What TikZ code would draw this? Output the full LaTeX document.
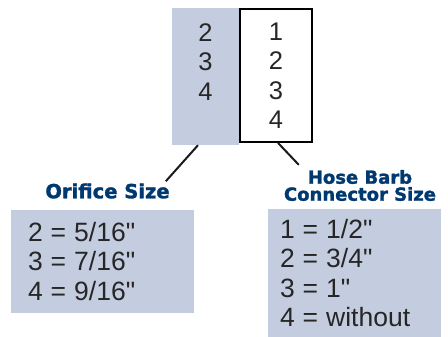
\documentclass[tikz,border=0pt]{standalone}
\usepackage{fontspec}
\newfontfamily\keyfont{Liberation Sans}
\newfontfamily\headfont{DejaVu Sans Bold}[FakeBold=1.5]
\usetikzlibrary{positioning,calc}
\definecolor{panelblue}{RGB}{196,205,224}
\definecolor{titleblue}{RGB}{0,57,112}
\newcommand\keyface{\keyfont\fontsize{25.5}{29.5}\selectfont}
\newcommand\widespace{\fontsize{26.5}{29.5}\selectfont\spaceskip=8pt plus 1pt\relax}

\begin{document}
\begin{tikzpicture}[x=1pt, y=-1pt,
    code/.style={minimum width=67pt, minimum height=137pt, align=center, inner sep=0pt, font=\keyface, text=black!85},
    legend/.style={fill=panelblue, text width=149pt, align=left, inner ysep=0pt, font=\keyface, text=black!85},
    heading/.style={font=\headfont\fontsize{19.5}{17}\selectfont, text=titleblue, align=center, inner sep=0pt},
    lead/.style={line width=2pt, black!90}
]
\useasboundingbox (0,0) rectangle (448,337);

% code columns
\node[code, fill=panelblue] (orcol) at (205.5,76.5) {2\\3\\4\\\phantom{4}};
\node[code, draw, line width=1.8pt, fill=white, minimum width=72pt, minimum height=133pt] (hbcol) at (276,75.5) {1\\2\\3\\4};

% headings
\node[heading] (orhead) at (107.5,191) {Orifice Size};
\node[heading, font=\headfont\fontsize{18}{17}\selectfont] (hbhead) at (360,185.5) {Hose Barb\\Connector Size};

% keys
\node[legend, inner xsep=17pt, minimum height=103pt] (orkey) at (102.5,261.5) {\widespace 2 = 5/16"\\3 = 7/16"\\4 = 9/16"};
\node[legend, inner xsep=12pt, minimum height=128pt] (hbkey) at (354.5,273) {\widespace 1 = 1/2"\\2 = 3/4"\\3 = 1"\\4 = without};

\draw[lead] ([xshift=-7.5pt]orcol.south) -- ([xshift=-4pt,yshift=2pt]orhead.north east);
\draw[lead] ([xshift=2pt]hbcol.south) -- ($(hbhead.north west)+(15,-5)$);
\end{tikzpicture}
\end{document}
